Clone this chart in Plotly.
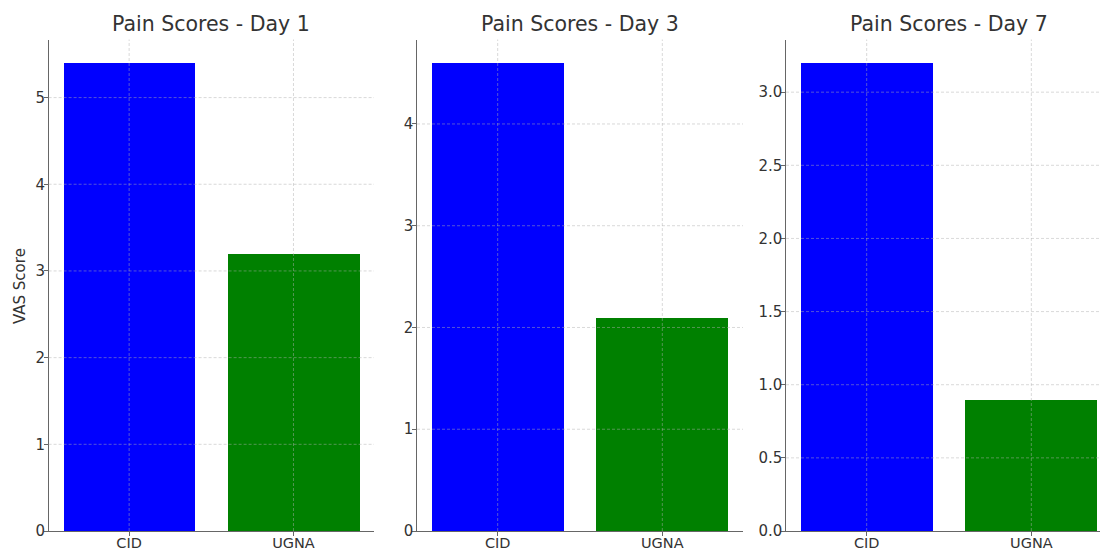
import plotly.graph_objects as go

groups = ["CID", "UGNA"]
day_titles = ["Pain Scores - Day 1", "Pain Scores - Day 3", "Pain Scores - Day 7"]
day1 = [5.4, 3.2]
day3 = [4.6, 2.1]
day7 = [3.2, 0.9]
bar_colors = ["#0000ff", "#008000"]
y_ticks = [[0, 1, 2, 3, 4, 5], [0, 1, 2, 3, 4], [0.0, 0.5, 1.0, 1.5, 2.0, 2.5, 3.0]]
y_fmt = ["d", "d", ".1f"]

W, H = 1100, 550


def px(x):
    return x / W


def py(y):
    return (H - y) / H


x_domains = [[px(48.6), px(374)], [px(417), px(743)], [px(786), 1.0]]
y_domain = [py(531), py(39.5)]
x_ranges = [[-0.49, 1.49], [-0.49, 1.49], [-0.49, 1.417]]
title_x = [211.3, 580, 949]

fig = go.Figure()
font = "DejaVu Sans, Arial, sans-serif"
grid = dict(color="rgba(175,175,175,0.6)", width=0.8, dash="3px,2px")
for i, vals in enumerate([day1, day3, day7]):
    n = "" if i == 0 else str(i + 1)
    fig.add_trace(go.Bar(x=[0, 1], y=vals, marker=dict(color=bar_colors, line=dict(width=0)),
                         width=0.8, xaxis="x" + n, yaxis="y" + n, showlegend=False, hoverinfo="skip"))
    ymax = max(vals) * 1.05
    fig.layout["xaxis" + n] = dict(domain=x_domains[i], range=x_ranges[i], anchor="y" + n,
                                   tickvals=[0, 1], ticktext=groups, showgrid=False, automargin=False,
                                   showline=True, linecolor="#666", linewidth=1.2,
                                   ticks="outside", ticklen=3.5, tickcolor="#666",
                                   ticklabelstandoff=-5,
                                   tickfont=dict(size=14.5, color="#333", family=font), zeroline=False)
    fig.layout["yaxis" + n] = dict(domain=y_domain, range=[0, ymax], anchor="x" + n,
                                   tickvals=y_ticks[i], tickformat=y_fmt[i], showgrid=False,
                                   automargin=False,
                                   showline=True, linecolor="#666", linewidth=1.2,
                                   ticks="outside", ticklen=3.5, tickcolor="#666",
                                   ticklabelstandoff=-4,
                                   tickfont=dict(size=15, color="#333", family=font), zeroline=False)
    xr = "x" + n
    yr = "y" + n
    for t in y_ticks[i]:
        if t == 0:
            continue
        fig.add_shape(type="line", xref=xr + " domain", yref=yr, x0=0, x1=1, y0=t, y1=t,
                      line=grid, layer="above")
    for xv in [0, 1]:
        fig.add_shape(type="line", xref=xr, yref=yr + " domain", x0=xv, x1=xv, y0=0, y1=1,
                      line=grid, layer="above")
    fig.add_annotation(text=day_titles[i], xref="paper", yref="paper", x=px(title_x[i]), y=py(24),
                       showarrow=False, xanchor="center", yanchor="middle",
                       font=dict(size=20.5, color="#333", family=font))

fig.add_annotation(text="VAS Score", xref="paper", yref="paper", x=px(20), y=py(286),
                   textangle=-90, showarrow=False, xanchor="center", yanchor="middle",
                   font=dict(size=15, color="#333", family=font))

fig.update_layout(width=W, height=H, margin=dict(l=0, r=0, t=0, b=0, autoexpand=False),
                  plot_bgcolor="white", paper_bgcolor="white", bargap=0)
fig.write_html("out.html", config={"displayModeBar": False},
               post_script="document.body.style.margin='0';document.body.style.padding='0';"
                           "document.body.style.overflow='hidden';")
